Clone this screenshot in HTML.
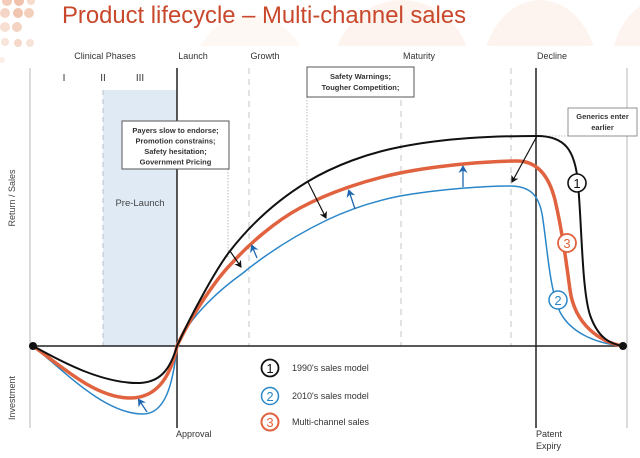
<!DOCTYPE html>
<html><head><meta charset="utf-8">
<style>
html,body{margin:0;padding:0;background:#fff;}
svg{display:block;}
text{font-family:"Liberation Sans",Arial,sans-serif;}
</style></head>
<body>
<svg width="640" height="458" viewBox="0 0 640 458" xmlns="http://www.w3.org/2000/svg">
<defs>
<clipPath id="topclip"><rect x="0" y="0" width="640" height="46"/></clipPath>
<marker id="ab" markerWidth="8" markerHeight="8" refX="6" refY="4" orient="auto" markerUnits="userSpaceOnUse">
<path d="M0,0 L7,4 L0,8 L2,4 Z" fill="#111"/></marker>
<marker id="au" markerWidth="9" markerHeight="9" refX="6" refY="4.5" orient="auto" markerUnits="userSpaceOnUse">
<path d="M0,0 L8,4.5 L0,9 L2.5,4.5 Z" fill="#1f66b0"/></marker>
</defs>
<rect width="640" height="458" fill="#fff"/>
<!-- faint background circles -->
<g clip-path="url(#topclip)" fill="#fdf4ef">
<ellipse cx="402" cy="75" rx="70" ry="75"/>
<ellipse cx="540" cy="75" rx="58" ry="75"/>
<ellipse cx="660" cy="75" rx="50" ry="75"/>
<ellipse cx="250" cy="85" rx="60" ry="70" fill="#fef8f5"/>
</g>
<!-- top-left dots -->
<g>
<circle cx="7" cy="1" r="5" fill="#f3cdb9"/>
<circle cx="19" cy="1" r="5" fill="#f0c2ab"/>
<circle cx="31" cy="1" r="4" fill="#f6dccd"/>
<circle cx="5" cy="13" r="5" fill="#f5d6c6"/>
<circle cx="18" cy="13" r="5" fill="#f1c5ae"/>
<circle cx="29" cy="13" r="5" fill="#f3cfbc"/>
<circle cx="5" cy="27" r="5" fill="#f7e0d3"/>
<circle cx="17" cy="27" r="5" fill="#f4d3c2"/>
<circle cx="5" cy="42" r="4" fill="#f8e4d9"/>
<circle cx="18" cy="43" r="4" fill="#f5d8c8"/>
<circle cx="30" cy="43" r="4" fill="#f8e3d8"/>
<circle cx="2" cy="60" r="3" fill="#fbeee7"/>
</g>
<!-- title -->
<text x="62" y="23" font-size="24" fill="#c9482b" textLength="404" lengthAdjust="spacingAndGlyphs">Product lifecycle – Multi-channel sales</text>

<!-- header labels -->
<g font-size="9" fill="#333" text-anchor="middle">
<text x="105" y="59">Clinical Phases</text>
<text x="193" y="59">Launch</text>
<text x="265" y="59">Growth</text>
<text x="419" y="59">Maturity</text>
<text x="552" y="59">Decline</text>
</g>
<g font-size="10" fill="#333" text-anchor="middle">
<text x="64" y="81">I</text>
<text x="103" y="81">II</text>
<text x="140" y="81">III</text>
</g>

<!-- pre-launch box -->
<rect x="103" y="90" width="74" height="256" fill="#dfeaf4"/>
<line x1="103" y1="90" x2="103" y2="346" stroke="#b9c2cc" stroke-width="1" stroke-dasharray="5,4"/>
<text x="140" y="206" font-size="9.5" fill="#444" text-anchor="middle">Pre-Launch</text>

<!-- grid lines -->
<line x1="30" y1="68" x2="30" y2="428" stroke="#cfcfcf" stroke-width="1.5"/>
<line x1="627" y1="68" x2="627" y2="428" stroke="#cfcfcf" stroke-width="1.5"/>
<line x1="249" y1="68" x2="249" y2="346" stroke="#c4c4c4" stroke-width="1" stroke-dasharray="6,5"/>
<line x1="401" y1="100" x2="401" y2="346" stroke="#c4c4c4" stroke-width="1" stroke-dasharray="6,5"/>
<line x1="511" y1="68" x2="511" y2="346" stroke="#c4c4c4" stroke-width="1" stroke-dasharray="6,5"/>
<line x1="228" y1="169" x2="228" y2="258" stroke="#aaa" stroke-width="0.8" stroke-dasharray="1.5,1.5"/>
<line x1="307" y1="97" x2="307" y2="182" stroke="#aaa" stroke-width="0.8" stroke-dasharray="1.5,1.5"/>
<line x1="537" y1="136" x2="568" y2="136" stroke="#aaa" stroke-width="0.8" stroke-dasharray="1.5,1.5"/>
<line x1="177" y1="68" x2="177" y2="428" stroke="#222" stroke-width="1.5"/>
<line x1="536" y1="68" x2="536" y2="428" stroke="#222" stroke-width="1.5"/>

<!-- axis -->
<line x1="33" y1="346" x2="623" y2="346" stroke="#222" stroke-width="1.6"/>

<!-- curves -->
<path d="M33,346 C65,372 105,414 143,414 C165,414 173,385 177,346 C190,315 222,288 243,273 C270,251 300,233 327,220 C350,209 375,201 400,196 C440,189 485,186 510,186 C530,186 540,195 543,220 C548,255 550,290 560,312 C572,335 600,344 623,346" fill="none" stroke="#2a86c8" stroke-width="1.5"/>
<path d="M33,346 C60,365 95,398 130,398 C155,398 170,380 177,346 C190,318 215,280 232,263 C250,243 276,221 300,208 C330,192 366,180 400,173 C440,165 490,161 517,161 C540,161 550,180 555,200 C562,230 566,260 570,290 C575,325 600,342 623,346" fill="none" stroke="#e0623e" stroke-width="3.5"/>
<path d="M33,346 C55,358 100,384 140,383 C160,382 170,370 177,346 C191,315 216,269 230,251 C251,224 276,201 307,182 C335,165 369,153 400,147 C445,138 492,136 537,136 C565,136 575,150 578,183 C582,230 582,290 590,315 C598,338 610,344 623,346" fill="none" stroke="#111" stroke-width="2"/>

<circle cx="33" cy="346" r="4" fill="#111"/>
<circle cx="623" cy="346" r="4" fill="#111"/>

<!-- arrows -->
<g stroke="#111" stroke-width="1.2" fill="none">
<line x1="230" y1="251" x2="241" y2="267" marker-end="url(#ab)"/>
<line x1="308" y1="182" x2="326" y2="218" marker-end="url(#ab)"/>
<line x1="537" y1="136" x2="512" y2="182" marker-end="url(#ab)"/>
</g>
<g stroke="#1f66b0" stroke-width="1.3" fill="none">
<line x1="257" y1="258" x2="252" y2="246" marker-end="url(#au)"/>
<line x1="355" y1="209" x2="349" y2="191" marker-end="url(#au)"/>
<line x1="463" y1="187" x2="463" y2="167" marker-end="url(#au)"/>
<line x1="147" y1="412" x2="139" y2="400" marker-end="url(#au)"/>
</g>

<!-- curve labels -->
<circle cx="577" cy="183" r="9" fill="#fff" stroke="#111" stroke-width="1.6"/>
<text x="577" y="188" font-size="13" fill="#111" text-anchor="middle">1</text>
<circle cx="567" cy="243" r="9" fill="#fff" stroke="#e0623e" stroke-width="1.8"/>
<text x="567" y="248" font-size="13" fill="#e0623e" text-anchor="middle">3</text>
<circle cx="558" cy="300" r="9" fill="#fff" stroke="#2a86c8" stroke-width="1.5"/>
<text x="558" y="305" font-size="13" fill="#2a86c8" text-anchor="middle">2</text>

<!-- boxes -->
<rect x="122" y="121" width="107" height="48" fill="#fff" stroke="#555" stroke-width="1"/>
<g font-size="7.5" font-weight="bold" fill="#333" text-anchor="middle">
<text x="175.5" y="133">Payers slow to endorse;</text>
<text x="175.5" y="143.5">Promotion constrains;</text>
<text x="175.5" y="154">Safety hesitation;</text>
<text x="175.5" y="164.5">Government Pricing</text>
</g>
<rect x="307" y="67" width="107" height="30" fill="#fff" stroke="#555" stroke-width="1"/>
<g font-size="7.5" font-weight="bold" fill="#333" text-anchor="middle">
<text x="360.5" y="79">Safety Warnings;</text>
<text x="360.5" y="90">Tougher Competition;</text>
</g>
<rect x="568" y="108" width="69" height="28" fill="#fff" stroke="#777" stroke-width="0.8"/>
<g font-size="7.5" font-weight="bold" fill="#333" text-anchor="middle">
<text x="602.5" y="119">Generics enter</text>
<text x="602.5" y="130">earlier</text>
</g>

<!-- axis labels -->
<text transform="translate(15,198) rotate(-90)" font-size="9" fill="#444" text-anchor="middle">Return / Sales</text>
<text transform="translate(15,398) rotate(-90)" font-size="9" fill="#444" text-anchor="middle">Investment</text>

<g font-size="9" fill="#333">
<text x="176" y="437">Approval</text>
<text x="536" y="437">Patent</text>
<text x="536" y="449">Expiry</text>
</g>

<!-- legend -->
<circle cx="270" cy="368" r="8.5" fill="#fff" stroke="#111" stroke-width="1.8"/>
<text x="270" y="373" font-size="13" fill="#111" text-anchor="middle">1</text>
<circle cx="270" cy="396" r="8.5" fill="#fff" stroke="#2a86c8" stroke-width="1.5"/>
<text x="270" y="401" font-size="13" fill="#2a86c8" text-anchor="middle">2</text>
<circle cx="270" cy="422" r="8.5" fill="#fff" stroke="#e0623e" stroke-width="2"/>
<text x="270" y="427" font-size="13" fill="#e0623e" text-anchor="middle">3</text>
<g font-size="9" fill="#333">
<text x="292" y="371">1990's sales model</text>
<text x="292" y="399">2010's sales model</text>
<text x="292" y="425">Multi-channel sales</text>
</g>
</svg>
</body></html>
